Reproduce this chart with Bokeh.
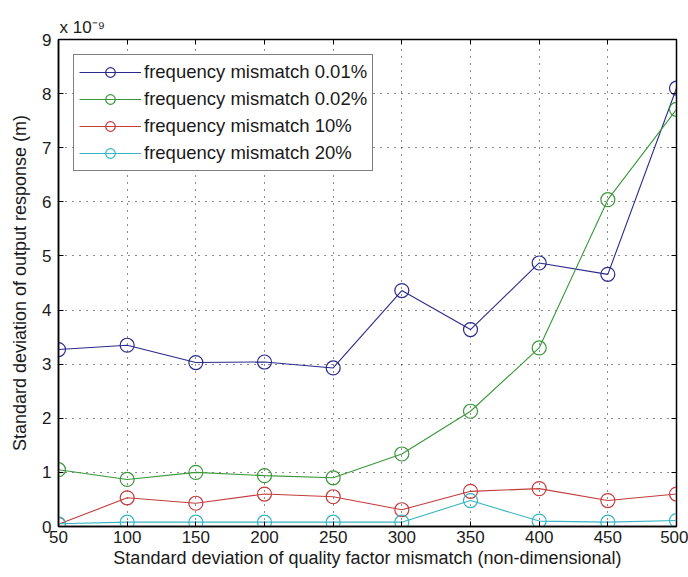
from bokeh.plotting import figure
from bokeh.models import FixedTicker, LinearAxis, Legend, Title
from bokeh.embed import file_html
from bokeh.resources import INLINE

# Data (values in units of 1e-9 m)
q_std = [50, 100, 150, 200, 250, 300, 350, 400, 450, 500]
f001 = [3.27, 3.35, 3.03, 3.04, 2.93, 4.36, 3.64, 4.87, 4.66, 8.10]
f002 = [1.05, 0.87, 1.00, 0.94, 0.90, 1.34, 2.13, 3.30, 6.04, 7.71]
f10 = [0.04, 0.53, 0.43, 0.60, 0.55, 0.31, 0.65, 0.70, 0.48, 0.60]
f20 = [0.05, 0.08, 0.08, 0.08, 0.08, 0.08, 0.48, 0.10, 0.08, 0.11]
x_ticks = [50, 100, 150, 200, 250, 300, 350, 400, 450, 500]
y_ticks = [0, 1, 2, 3, 4, 5, 6, 7, 8, 9]

series = [
    ("frequency mismatch 0.01%", f001, "#2a2a8c"),
    ("frequency mismatch 0.02%", f002, "#3a983a"),
    ("frequency mismatch 10%", f10, "#c43c3c"),
    ("frequency mismatch 20%", f20, "#36b6c2"),
]

FONT = "Liberation Sans"
TXT = "#1a1a1a"

p = figure(width=688, height=577, output_backend="svg", toolbar_location=None,
           x_range=(50, 500), y_range=(0, 9), title=None,
           min_border_left=58, min_border_right=12, min_border_top=39, min_border_bottom=51)
p.background_fill_color = "white"
p.border_fill_color = "white"
p.outline_line_color = "black"
p.outline_line_width = 1.5

for ax, ticks in ((p.xaxis[0], x_ticks), (p.yaxis[0], y_ticks)):
    ax.ticker = FixedTicker(ticks=ticks)
    ax.major_tick_in = 5
    ax.major_tick_out = 0
    ax.minor_tick_line_color = None
    ax.axis_line_color = "black"
    ax.axis_line_width = 1.5
    ax.major_tick_line_color = "black"
    ax.major_label_text_font = FONT
    ax.major_label_text_font_size = "17px"
    ax.major_label_text_color = TXT
    ax.axis_label_text_font = FONT
    ax.axis_label_text_font_size = "18px"
    ax.axis_label_text_font_style = "normal"
    ax.axis_label_text_color = TXT

p.xaxis.axis_label = "Standard deviation of quality factor mismatch (non-dimensional)"
p.yaxis.axis_label = "Standard deviation of output response (m)"
p.xaxis.major_label_standoff = 4
p.xaxis.axis_label_standoff = 2
p.yaxis.major_label_standoff = 7
p.yaxis.axis_label_standoff = 9

# box axes (ticks only, no labels drawn)
top = LinearAxis(ticker=FixedTicker(ticks=x_ticks), major_tick_in=5, major_tick_out=0,
                 minor_tick_line_color=None, major_label_text_color=None,
                 major_label_text_font_size="1px", major_label_standoff=0,
                 axis_line_color="black")
right = LinearAxis(ticker=FixedTicker(ticks=y_ticks), major_tick_in=5, major_tick_out=0,
                   minor_tick_line_color=None, major_label_text_color=None,
                   major_label_text_font_size="1px", major_label_standoff=0,
                   axis_line_color="black")
p.add_layout(top, "above")
p.add_layout(right, "right")

for g in (p.xgrid[0], p.ygrid[0]):
    g.grid_line_color = "black"
    g.grid_line_dash = "1 6"
    g.grid_line_alpha = 0.9
    g.grid_line_width = 1
p.xgrid.ticker = FixedTicker(ticks=x_ticks)
p.ygrid.ticker = FixedTicker(ticks=y_ticks)

items = []
for name, ys, col in series:
    r1 = p.line(q_std, ys, line_color=col, line_width=1.1)
    r2 = p.scatter(q_std, ys, marker="circle", size=14, fill_color=None,
                   line_color=col, line_width=1.2)
    items.append((name, [r1, r2]))

legend = Legend(items=items, location="top_left")
legend.margin = 15
legend.padding = 5
legend.spacing = 3
legend.glyph_width = 62
legend.glyph_height = 24
legend.label_height = 24
legend.label_standoff = 3
legend.label_text_font = FONT
legend.label_text_font_size = "18.5px"
legend.label_text_color = TXT
legend.border_line_color = "black"
legend.border_line_width = 1.2
legend.background_fill_color = "white"
legend.background_fill_alpha = 1
p.add_layout(legend, "center")

exp_title = Title(text="x 10\u207b\u2079", align="left", offset=1, standoff=6,
                  text_font=FONT, text_font_size="17px", text_font_style="normal",
                  text_color=TXT)
p.add_layout(exp_title, "above")

open("out.html", "w").write(file_html(p, INLINE))
